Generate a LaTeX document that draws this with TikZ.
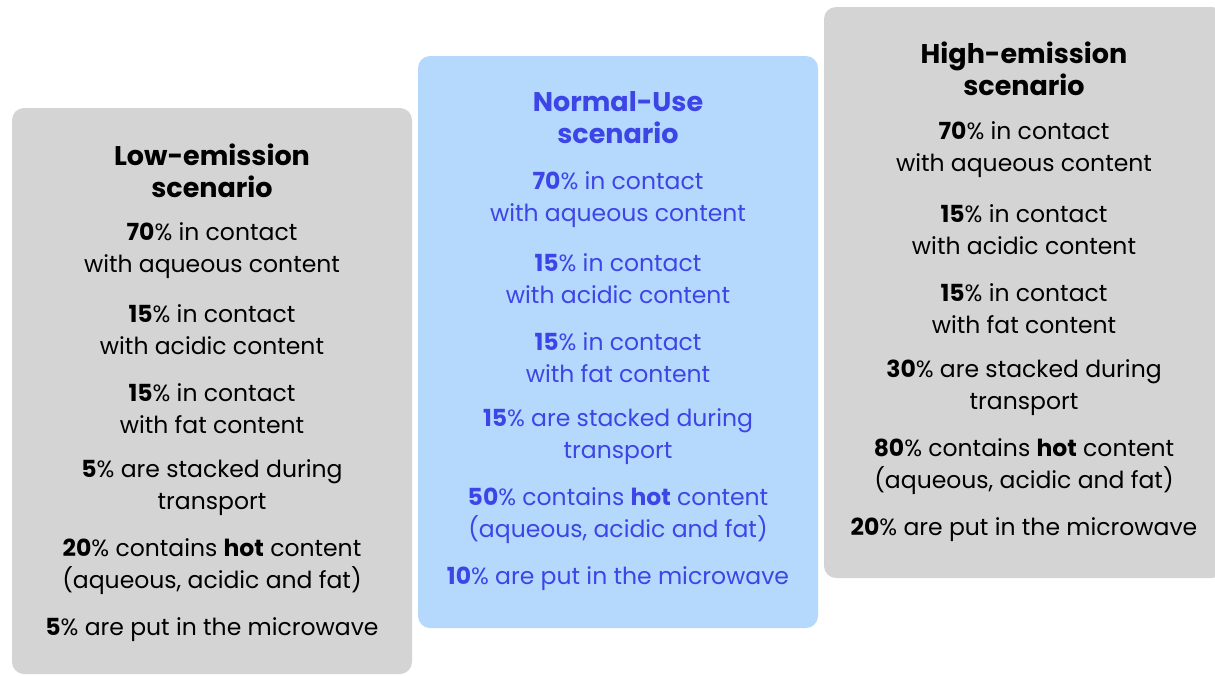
\documentclass[tikz,border=0pt]{standalone}
\usepackage{fontspec}
\setmainfont{Poppins}
\definecolor{greybox}{HTML}{D4D4D4}
\definecolor{bluebox}{HTML}{B5D8FD}
\definecolor{bluetext}{HTML}{3D45E6}
\begin{document}
\begin{tikzpicture}[x=1pt,y=-1pt,
  panel/.style={rounded corners=12pt},
  txt/.style={align=center,inner sep=0pt,font=\fontsize{23.5}{32}\selectfont},
  ttl/.style={align=center,inner sep=0pt,font=\fontsize{27}{32}\selectfont\bfseries}]
\useasboundingbox (0,0) rectangle (1215,675);
\fill[greybox,panel] (12,108) rectangle (412,674);
\fill[bluebox,panel] (418,56) rectangle (818,628);
\fill[greybox,panel] (824,7) rectangle (1224,578);
% left
\node[ttl] (lt) at (212,171) {Low-emission\\scenario};
\node[txt] (l1) at (212,251) {\textbf{70}\% in contact\\with aqueous content};
\node[txt] (l2) at (212,330) {\textbf{15}\% in contact\\with acidic content};
\node[txt] (l3) at (212,409) {\textbf{15}\% in contact\\with fat content};
\node[txt] (l4) at (212,488) {\textbf{5}\% are stacked during\\transport};
\node[txt] (l5) at (212,567) {\textbf{20}\% contains \textbf{hot} content\\(aqueous, acidic and fat)};
\node[txt] (l6) at (212,630) {\textbf{5}\% are put in the microwave};
% middle
\begin{scope}[text=bluetext]
\node[ttl] (mt) at (618,118) {Normal-Use\\scenario};
\node[txt] (m1) at (618,200) {\textbf{70}\% in contact\\with aqueous content};
\node[txt] (m2) at (618,279) {\textbf{15}\% in contact\\with acidic content};
\node[txt] (m3) at (618,358) {\textbf{15}\% in contact\\with fat content};
\node[txt] (m4) at (618,437) {\textbf{15}\% are stacked during\\transport};
\node[txt] (m5) at (618,516) {\textbf{50}\% contains \textbf{hot} content\\(aqueous, acidic and fat)};
\node[txt] (m6) at (618,579) {\textbf{10}\% are put in the microwave};
\end{scope}
% right
\node[ttl] (rt) at (1024,69) {High-emission\\scenario};
\node[txt] (r1) at (1024,150) {\textbf{70}\% in contact\\with aqueous content};
\node[txt] (r2) at (1024,230) {\textbf{15}\% in contact\\with acidic content};
\node[txt] (r3) at (1024,309) {\textbf{15}\% in contact\\with fat content};
\node[txt] (r4) at (1024,388) {\textbf{30}\% are stacked during\\transport};
\node[txt] (r5) at (1024,467) {\textbf{80}\% contains \textbf{hot} content\\(aqueous, acidic and fat)};
\node[txt] (r6) at (1024,530) {\textbf{20}\% are put in the microwave};
\end{tikzpicture}
\end{document}
